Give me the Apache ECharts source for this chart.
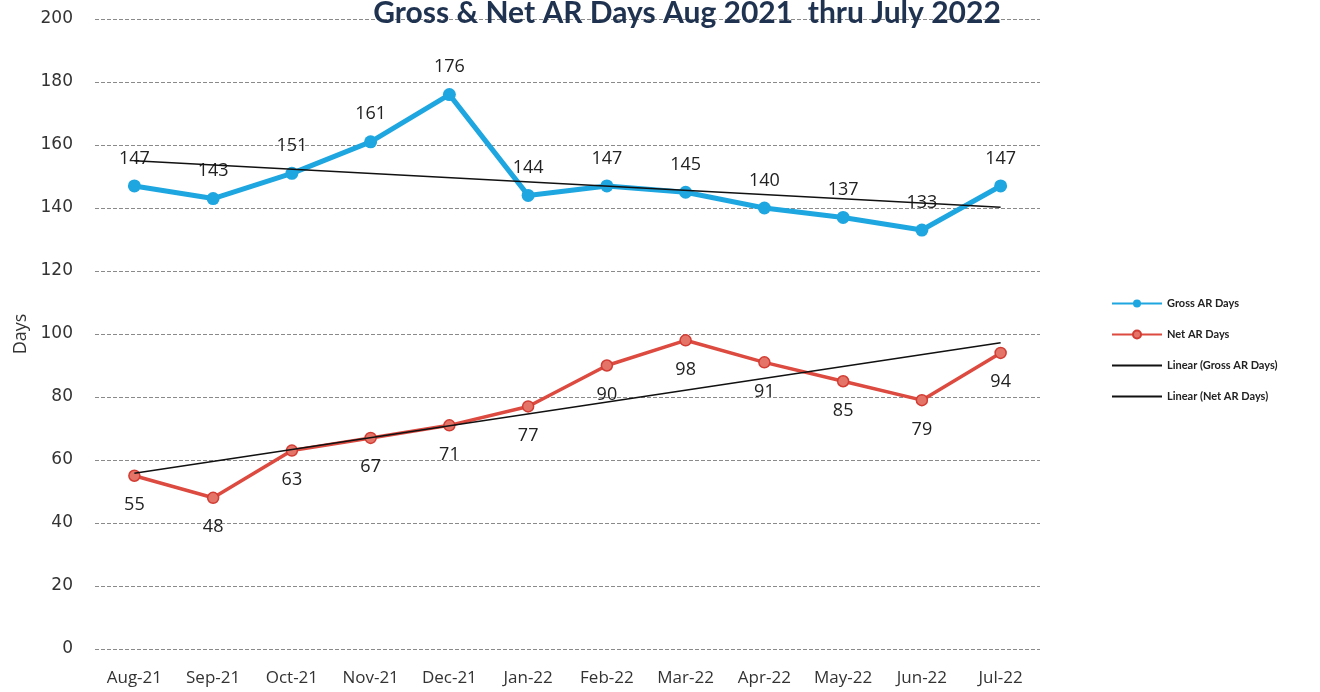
<!DOCTYPE html>
<html><head><meta charset="utf-8">
<script src="https://cdn.jsdelivr.net/npm/echarts@6/dist/echarts.min.js"></script>
<style>html,body{margin:0;padding:0;background:#fff}#c{width:1320px;height:692px}</style>
</head><body><div id="c"></div>
<script>
const categories = ['Aug-21','Sep-21','Oct-21','Nov-21','Dec-21','Jan-22','Feb-22','Mar-22','Apr-22','May-22','Jun-22','Jul-22'];
const grossAR = [147,143,151,161,176,144,147,145,140,137,133,147];
const netAR = [55,48,63,67,71,77,90,98,91,85,79,94];
const grossTrendEnds = [155.0, 140.2];
const netTrendEnds = [55.8, 97.2];

function trendData(ends){
  const d = categories.map(()=>null);
  d[0] = ends[0]; d[d.length-1] = ends[1];
  return d;
}
const chart = echarts.init(document.getElementById('c'));
chart.setOption({
  backgroundColor:'#fff',
  animation:false,
  title:{text:'Gross & Net AR Days Aug 2021  thru July 2022',left:682,textAlign:'center',top:-7,
    textStyle:{fontFamily:'Lato',fontWeight:'bold',fontSize:30,color:'#1f3350'}},
  grid:{left:95,right:280,top:19,bottom:43},
  legend:{orient:'vertical',left:1106,top:293,itemGap:20,itemWidth:50,itemHeight:10,
    textStyle:{fontFamily:'Lato',fontWeight:'bold',fontSize:11,color:'#222'},
    data:['Gross AR Days','Net AR Days',
      {name:'Linear (Gross AR Days)',itemStyle:{opacity:0}},
      {name:'Linear (Net AR Days)',itemStyle:{opacity:0}}]},
  xAxis:{type:'category',data:categories,boundaryGap:true,
    axisLine:{show:false},axisTick:{show:false},
    axisLabel:{fontFamily:'Open Sans',fontSize:17,color:'#333',margin:21}},
  yAxis:{type:'value',min:0,max:200,interval:20,name:'Days',nameLocation:'middle',nameGap:62,
    nameTextStyle:{fontFamily:'Open Sans',fontSize:18,color:'#333'},
    axisLabel:{fontFamily:'DejaVu Sans',fontSize:17,color:'#333',margin:22},
    splitLine:{lineStyle:{color:'#8a8a8a',type:[4,2],width:1}}},
  series:[
    {name:'Gross AR Days',type:'line',data:grossAR,symbol:'circle',symbolSize:13,
      lineStyle:{color:'#1ea6e0',width:5},itemStyle:{color:'#1ea6e0'},
      label:{show:true,position:'top',distance:12,fontFamily:'Open Sans',fontSize:18,color:'#222'},z:3},
    {name:'Net AR Days',type:'line',data:netAR,symbol:'circle',symbolSize:11,
      lineStyle:{color:'#dc4a40',width:3.5},itemStyle:{color:'#e57468',borderColor:'#d23c33',borderWidth:1.5},
      label:{show:true,position:'bottom',distance:14,fontFamily:'Open Sans',fontSize:18,color:'#222'},z:3},
    {name:'Linear (Gross AR Days)',type:'line',data:trendData(grossTrendEnds),connectNulls:true,symbol:'none',
      lineStyle:{color:'#111',width:1.5},itemStyle:{color:'#111'},z:4},
    {name:'Linear (Net AR Days)',type:'line',data:trendData(netTrendEnds),connectNulls:true,symbol:'none',
      lineStyle:{color:'#111',width:1.5},itemStyle:{color:'#111'},z:4}
  ]
});
</script></body></html>
